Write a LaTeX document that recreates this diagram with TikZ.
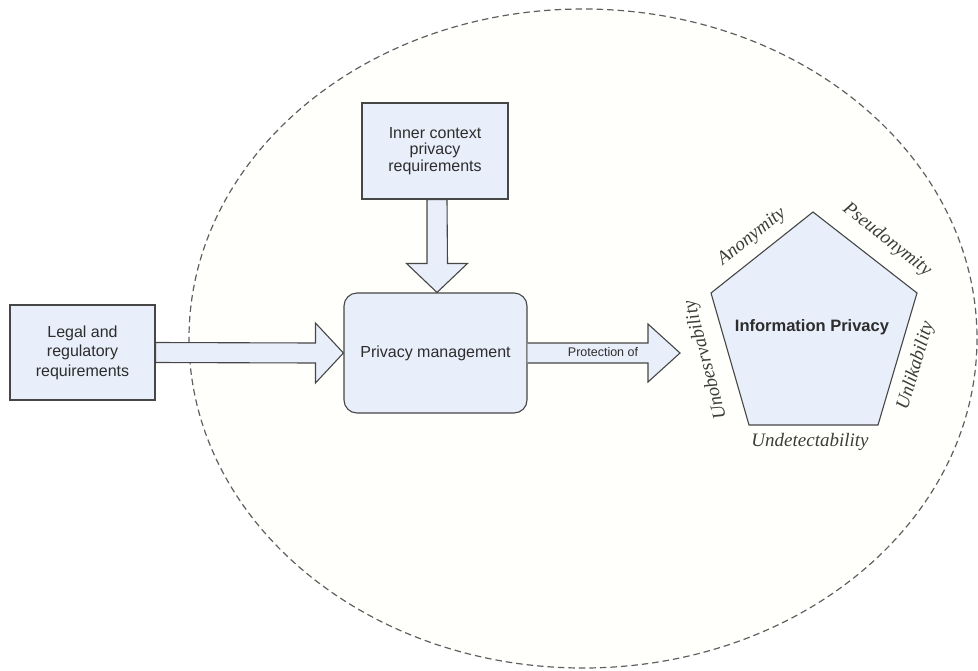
\documentclass[tikz,border=0pt]{standalone}
\usepackage{fontspec}
\setmainfont{Liberation Serif}
\setsansfont{Liberation Sans}
\usetikzlibrary{calc}
\definecolor{boxfill}{RGB}{232,238,250}
\definecolor{boxline}{RGB}{70,70,70}
\definecolor{ellfill}{RGB}{255,255,252}
\definecolor{ellline}{RGB}{95,95,95}
\definecolor{txt}{RGB}{45,45,45}
\definecolor{attrtxt}{RGB}{60,60,60}
\tikzset{
  box/.style={draw=boxline, fill=boxfill, line width=1.1pt, align=center,
    font=\sffamily\fontsize{16}{19.5}\selectfont, text=txt, inner sep=0pt},
  blockarrow/.style={draw=boxline, fill=boxfill, line width=1.1pt, line join=miter},
  attr/.style={font=\itshape\fontsize{19}{22}\selectfont, text=attrtxt, inner sep=0pt},
}
\begin{document}
\begin{tikzpicture}[x=1pt,y=-1pt]
\useasboundingbox (0,0) rectangle (978,670);
% outer dashed ellipse
\draw[ellline, fill=ellfill, dash pattern=on 6.5pt off 4pt, line width=1.2pt]
  (583,338.5) ellipse [x radius=394, y radius=329.5];
% boxes
\node[box, minimum width=145, minimum height=95] (legal) at (82.5,352.5)
  {Legal and\\regulatory\\requirements};
\node[box, minimum width=146, minimum height=96,
  font=\sffamily\fontsize{16}{16.5}\selectfont] (inner) at (435,151)
  {Inner context\\privacy\\requirements};
\node[box, minimum width=183, minimum height=120, rounded corners=13pt] (pm) at (435.5,353)
  {Privacy management};
\coordinate (ptip) at (680,353);
% block arrows
\draw[blockarrow]
  ($(legal.east)+(0,-10)$) -- ($(pm.west)+(-28,-10)$) -- ($(pm.west)+(-28,-30)$)
  -- (pm.west) -- ($(pm.west)+(-28,30)$) -- ($(pm.west)+(-28,10)$)
  -- ($(legal.east)+(0,10)$) -- cycle;
\draw[blockarrow]
  ($(inner.south)+(-8,0)$) -- ($(pm.north)+(-8.5,-29)$) -- ($(pm.north)+(-29,-29)$)
  -- ($(pm.north)+(1.5,0)$) -- ($(pm.north)+(32,-29)$) -- ($(pm.north)+(12,-29)$)
  -- ($(inner.south)+(12,0)$) -- cycle;
\draw[blockarrow]
  ($(pm.east)+(0,-10)$) -- ($(ptip)+(-32,-10)$) -- ($(ptip)+(-32,-29)$)
  -- (ptip) -- ($(ptip)+(-32,29)$) -- ($(ptip)+(-32,10)$)
  -- ($(pm.east)+(0,10)$);
\node[font=\sffamily\fontsize{12.5}{14}\selectfont, text=txt, inner sep=0pt] (prot) at (603,352) {Protection of};
% pentagon
\coordinate (pT) at (813,212);
\coordinate (pUR) at (917,293);
\coordinate (pLR) at (878,425);
\coordinate (pLL) at (749,425);
\coordinate (pUL) at (711,293);
\draw[blockarrow] (pT) -- (pUR) -- (pLR) -- (pLL) -- (pUL) -- cycle;
\node[font=\sffamily\bfseries\fontsize{16.5}{19}\selectfont, text=txt, inner sep=0pt] (ip) at (812,327) {Information Privacy};
% attributes
\node[attr, rotate=38.5] (anon) at (752,237) {Anonymity};
\node[attr, rotate=-38] (pseudo) at (887,240) {Pseudonymity};
\node[attr, rotate=73.5] (unlink) at (916,366) {Unlikability};
\node[attr, rotate=105] (unobs) at (706,360) {Unobesrvability};
\node[attr] (undet) at (810,442) {Undetectability};
\end{tikzpicture}
\end{document}
